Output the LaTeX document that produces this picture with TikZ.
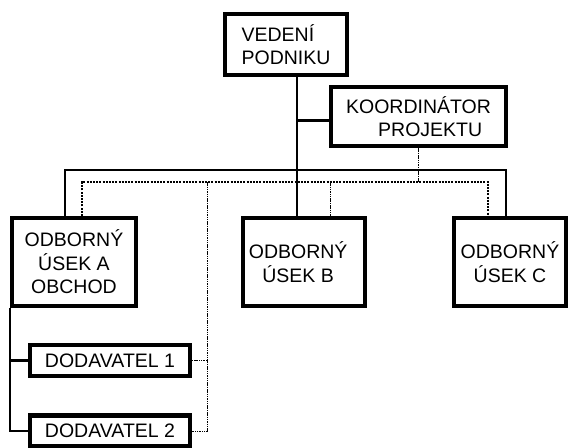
\documentclass[tikz,border=0pt]{standalone}
\usepackage{fontspec}
\setmainfont{Liberation Sans}
\begin{document}
\begin{tikzpicture}[x=1pt,y=-1pt,
  box/.style={draw, line width=4.2pt, inner sep=0pt, align=center,
    font=\fontsize{19.5}{23.5}\selectfont},
  conn/.style={line width=2.2pt},
  dotbus/.style={line width=2.2pt, dash pattern=on 2pt off 1.2pt},
  dotthin/.style={line width=1pt, dash pattern=on 1.5pt off 0.8pt}]
\useasboundingbox (0,0) rectangle (578,447);
\clip (0,0) rectangle (578,447);
% nodes
\node[box, minimum width=122pt, minimum height=61pt, align=left] (ved) at (286,44.5) {VEDENÍ\\PODNIKU};
\node[box, minimum width=175pt, minimum height=59pt] (koord) at (418.5,116.5) {KOORDINÁTOR\\\hspace*{1.2em}PROJEKTU};
\node[box, minimum width=124pt, minimum height=88pt] (A) at (74,262) {ODBORNÝ\\ÚSEK A\\OBCHOD};
\node[box, minimum width=122pt, minimum height=88pt] (B) at (304,262) {ODBORNÝ\hspace*{0.6em}\\ÚSEK B\hspace*{0.6em}};
\node[box, minimum width=112pt, minimum height=88pt] (C) at (510,262) {ODBORNÝ\\ÚSEK C};
\node[box, minimum width=160pt, minimum height=31pt] (d1) at (110,360.5) {DODAVATEL 1};
\node[box, minimum width=160pt, minimum height=31pt] (d2) at (110,431) {DODAVATEL 2};
% helper coordinates
\coordinate (t) at (297,0);
\coordinate (busL) at (65,170);
\coordinate (busR) at (506,170);
\coordinate (dbL) at (82,182);
\coordinate (dbR) at (488,182);
\coordinate (dB) at (330,182);
\coordinate (dS) at (207,182);
% solid lines
\draw[conn] (ved.south -| t) -- (B.north -| t);
\draw[conn] ([yshift=-4pt]koord.west) -- ([yshift=-4pt]koord.west -| t);
\draw[conn] (A.north -| busL) -- (busL) -- (busR) -- (C.north -| busR);
\draw[conn] (A.south west) -- (A.south west |- d2.west) -- (d2.west);
\draw[conn] (A.south west |- d1.west) -- (d1.west);
% dotted lines
\draw[dotbus] (A.north -| dbL) -- (dbL) -- (dbR) -- (C.north -| dbR);
\draw[dotthin] (koord.south) -- (koord.south |- dbL);
\draw[dotthin] (dB) -- (B.north -| dB);
\draw[dotthin] (dS) -- (dS |- d2.east) -- (d2.east);
\draw[dotthin] (dS |- d1.east) -- (d1.east);
\end{tikzpicture}
\end{document}
